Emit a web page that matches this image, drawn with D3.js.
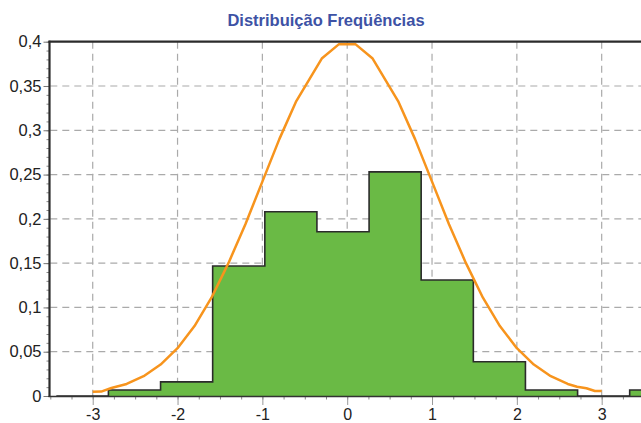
<!DOCTYPE html>
<html><head><meta charset="utf-8">
<script src="https://cdn.jsdelivr.net/npm/d3@7"></script>
<style>body{margin:0;background:#fff}svg{display:block}text{font-family:"Liberation Sans",Arial,sans-serif}</style>
</head><body>
<svg id="c" width="641" height="423"></svg>
<script>
const title = "Distribuição Freqüências";
const binEdges = [-3.429, -2.815, -2.200, -1.586, -0.971, -0.357, 0.258, 0.872, 1.487, 2.101, 2.716, 3.330, 3.945];
const binFreq = [0, 0.0068, 0.0160, 0.1467, 0.2080, 0.1854, 0.2530, 0.1310, 0.0387, 0.0068, 0, 0.0068];
const curveX = [-3.0, -2.9, -2.78, -2.6, -2.4, -2.2, -2.0, -1.8, -1.6, -1.4, -1.2, -1.0, -0.8, -0.6, -0.3, -0.1, 0.1, 0.3, 0.6, 0.8, 1.0, 1.2, 1.4, 1.6, 1.8, 2.0, 2.2, 2.4, 2.6, 2.71, 2.82, 2.92, 3.0];
const curveY = [0.0047, 0.0050, 0.0090, 0.0136, 0.0224, 0.0355, 0.054, 0.079, 0.111, 0.150, 0.194, 0.242, 0.290, 0.333, 0.381, 0.397, 0.397, 0.381, 0.333, 0.290, 0.242, 0.194, 0.150, 0.111, 0.079, 0.054, 0.0355, 0.0224, 0.0136, 0.0105, 0.0087, 0.0056, 0.0056];
const xTicks = [-3, -2, -1, 0, 1, 2, 3];
const yTicks = [0, 0.05, 0.1, 0.15, 0.2, 0.25, 0.3, 0.35, 0.4];

const svg = d3.select("#c");
const x = d3.scaleLinear().domain([-3.5, 3.5]).range([50.3, 644.1]);
const y = d3.scaleLinear().domain([0, 0.4]).range([396, 41.7]);
const fmt = d => String(d).replace(".", ",");

svg.append("text").attr("x", 326).attr("y", 26).attr("text-anchor", "middle")
  .attr("font-size", 16.5).attr("font-weight", "bold").attr("fill", "#3d52a5").text(title);

// gridlines
const grid = svg.append("g").attr("stroke", "#aaa").attr("stroke-width", 1.2).attr("stroke-dasharray", "7,5");
grid.selectAll("line.v").data(xTicks).join("line")
  .attr("x1", d => x(d)).attr("x2", d => x(d)).attr("y1", y(0.4)).attr("y2", y(0));
grid.selectAll("line.h").data(yTicks.filter(d => d > 0 && d < 0.4)).join("line")
  .attr("x1", x(-3.5)).attr("x2", 641).attr("y1", d => y(d)).attr("y2", d => y(d));

// histogram
const steps = binFreq.map((f, i) => [binEdges[i], f]);
steps.push([binEdges[binEdges.length - 1], binFreq[binFreq.length - 1]]);
svg.append("path").datum(steps)
  .attr("fill", "#6aba45")
  .attr("d", d3.area().curve(d3.curveStepAfter).x(d => x(d[0])).y0(y(0)).y1(d => y(d[1])));
svg.append("path").datum(steps)
  .attr("fill", "none").attr("stroke", "#2b2b2b").attr("stroke-width", 1.6)
  .attr("d", d3.line().curve(d3.curveStepAfter).x(d => x(d[0])).y(d => y(d[1])));

// normal curve
svg.append("path").datum(curveX.map((v, i) => [v, curveY[i]]))
  .attr("fill", "none").attr("stroke", "#f7941d").attr("stroke-width", 2.5).attr("stroke-linejoin", "round")
  .attr("d", d3.line().x(d => x(d[0])).y(d => y(d[1])));

// axes
const xAxis = svg.append("g").attr("transform", `translate(0,${y(0)})`)
  .call(d3.axisBottom(x).tickValues(d3.range(-3.5, 3.51, 0.25)).tickSize(3.5).tickFormat(""));
xAxis.select(".domain").remove();
xAxis.selectAll("line").attr("stroke", "#888");
const xMaj = svg.append("g").attr("transform", `translate(0,${y(0)})`)
  .call(d3.axisBottom(x).tickValues(xTicks).tickSize(9).tickPadding(4).tickFormat(d => d));
xMaj.select(".domain").remove();
xMaj.selectAll("line").attr("stroke", "#999");
xMaj.selectAll("text").attr("font-size", 16).attr("fill", "#222").attr("font-family", "Liberation Sans, Arial, sans-serif");

const yMin = svg.append("g").attr("transform", `translate(49.5,0)`)
  .call(d3.axisLeft(y).tickValues(d3.range(0, 0.4001, 0.01)).tickSize(3).tickFormat(""));
yMin.select(".domain").remove();
yMin.selectAll("line").attr("stroke", "#888");
const yMaj = svg.append("g").attr("transform", `translate(49.5,0)`)
  .call(d3.axisLeft(y).tickValues(yTicks).tickSize(6).tickPadding(2).tickFormat(fmt));
yMaj.select(".domain").remove();
yMaj.selectAll("line").attr("stroke", "#777");
yMaj.selectAll("text").attr("font-size", 16.5).attr("fill", "#222").attr("font-family", "Liberation Sans, Arial, sans-serif");

// frame lines
svg.append("line").attr("x1", 49.5).attr("x2", 49.5).attr("y1", y(0.4) - 1).attr("y2", y(0) + 1)
  .attr("stroke", "#2b2b2b").attr("stroke-width", 2.2);
svg.append("line").attr("x1", 48.5).attr("x2", 641).attr("y1", y(0.4)).attr("y2", y(0.4))
  .attr("stroke", "#2b2b2b").attr("stroke-width", 2.2);
svg.append("line").attr("x1", 48.5).attr("x2", 641).attr("y1", y(0) + 0.5).attr("y2", y(0) + 0.5)
  .attr("stroke", "#333").attr("stroke-width", 1.6);
</script>
</body></html>
